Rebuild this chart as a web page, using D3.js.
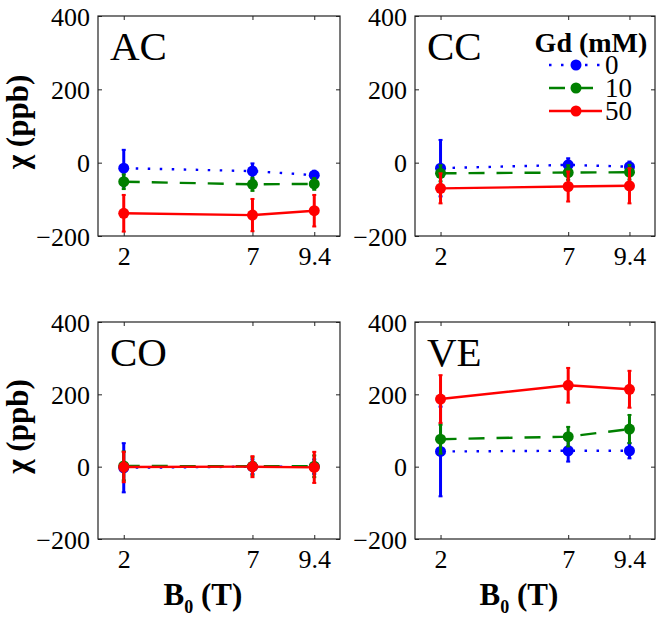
<!DOCTYPE html>
<html><head><meta charset="utf-8">
<script src="https://cdn.jsdelivr.net/npm/d3@7"></script>
<style>
body{margin:0;background:#fff}
text{font-family:"Liberation Serif","Times New Roman",serif;fill:#000}
</style>
</head><body>
<svg id="c" width="664" height="618"></svg>
<script>
// ---- data ----
const fieldT = [2, 7, 9.4];
const xTickLabels = ["2", "7", "9.4"];
const yTickValues = [-200, 0, 200, 400];
const panelNames = ["AC", "CC", "CO", "VE"];
const gdLevels = ["0", "10", "50"];

const AC_0 = [-15, -23, -34],  AC_0_err = [50, 21, 12];
const AC_10 = [-52, -59, -58], AC_10_err = [20, 18, 16];
const AC_50 = [-138, -143, -131], AC_50_err = [50, 44, 43];

const CC_0 = [-15, -6, -11],   CC_0_err = [77, 18, 14];
const CC_10 = [-29, -27, -26], CC_10_err = [22, 20, 20];
const CC_50 = [-70, -65, -63], CC_50_err = [41, 41, 48];

const CO_0 = [-3, 0, 0],   CO_0_err = [68, 20, 20];
const CO_10 = [2, 1, 1],   CO_10_err = [40, 25, 30];
const CO_50 = [-1, 0, -2], CO_50_err = [42, 29, 43];

const VE_0 = [42, 44, 44],    VE_0_err = [124, 30, 21];
const VE_10 = [76, 83, 104],  VE_10_err = [40, 27, 39];
const VE_50 = [187, 225, 214], VE_50_err = [66, 48, 51];

const panelData = {
  AC: [[AC_0, AC_0_err], [AC_10, AC_10_err], [AC_50, AC_50_err]],
  CC: [[CC_0, CC_0_err], [CC_10, CC_10_err], [CC_50, CC_50_err]],
  CO: [[CO_0, CO_0_err], [CO_10, CO_10_err], [CO_50, CO_50_err]],
  VE: [[VE_0, VE_0_err], [VE_10, VE_10_err], [VE_50, VE_50_err]]
};

// ---- styles ----
const colors = ["#0000ff", "#008000", "#ff0000"];
const dashes = ["2.5,9.5", "16,12", null];
const lw = 2.4;
const serif = '"Liberation Serif","Times New Roman",serif';

const boxes = [
  {x0: 98, x1: 340, y0: 16, y1: 236},
  {x0: 415, x1: 655, y0: 16, y1: 236},
  {x0: 98, x1: 340, y0: 322, y1: 539},
  {x0: 415, x1: 655, y0: 322, y1: 539}
];

const svg = d3.select("#c");

panelNames.forEach((name, pi) => {
  const b = boxes[pi];
  const x = d3.scaleLinear().domain([1, 10.4]).range([b.x0, b.x1]);
  const y = d3.scaleLinear().domain([-200, 400]).range([b.y1, b.y0]);
  const g = svg.append("g");

  // axes (inward ticks)
  const axB = g.append("g").attr("transform", `translate(0,${b.y1})`)
    .call(d3.axisBottom(x).tickValues(fieldT).tickFormat((d, i) => xTickLabels[i]).tickSize(-4).tickPadding(11));
  const axT = g.append("g").attr("transform", `translate(0,${b.y0})`)
    .call(d3.axisTop(x).tickValues(fieldT).tickFormat("").tickSize(-4));
  const axL = g.append("g").attr("transform", `translate(${b.x0},0)`)
    .call(d3.axisLeft(y).tickValues(yTickValues).tickFormat(d => d < 0 ? "\u2212" + Math.abs(d) : d).tickSize(-4).tickPadding(8));
  const axR = g.append("g").attr("transform", `translate(${b.x1},0)`)
    .call(d3.axisRight(y).tickValues(yTickValues).tickFormat("").tickSize(-4));
  [axB, axT, axL, axR].forEach(a => {
    a.attr("font-family", serif).attr("font-size", 26);
    a.select(".domain").remove();
    a.selectAll("line").attr("stroke", "#222").attr("stroke-width", 1);
    a.selectAll("text").style("font-family", serif).style("font-size", "26px").attr("fill", "#111");
  });
  axB.selectAll("text").attr("dy", "0.71em");
  axL.selectAll("text").attr("dy", "0.35em");

  g.append("rect").attr("x", b.x0).attr("y", b.y0).attr("width", b.x1 - b.x0).attr("height", b.y1 - b.y0)
    .attr("fill", "none").attr("stroke", "#222").attr("stroke-width", 1.2);

  // series
  panelData[name].forEach(([vals, errs], si) => {
    const pts = fieldT.map((t, i) => ({t, v: vals[i], e: errs[i]}));
    const sg = g.append("g");
    const line = d3.line().x(d => x(d.t)).y(d => y(d.v));
    sg.append("path").datum(pts).attr("d", line).attr("fill", "none")
      .attr("stroke", colors[si]).attr("stroke-width", lw)
      .attr("stroke-dasharray", dashes[si]);
    pts.forEach(d => {
      sg.append("line").attr("x1", x(d.t)).attr("x2", x(d.t)).attr("y1", y(d.v - d.e)).attr("y2", y(d.v + d.e))
        .attr("stroke", colors[si]).attr("stroke-width", 3);
      [d.v - d.e, d.v + d.e].forEach(c => {
        sg.append("line").attr("x1", x(d.t) - 2).attr("x2", x(d.t) + 2).attr("y1", y(c)).attr("y2", y(c))
          .attr("stroke", colors[si]).attr("stroke-width", 2);
      });
    });
    sg.selectAll("circle").data(pts).join("circle")
      .attr("cx", d => x(d.t)).attr("cy", d => y(d.v)).attr("r", 5.5).attr("fill", colors[si]);
  });

  // panel label
  g.append("text").attr("x", b.x0 + 12).attr("y", b.y0 + 44).style("font-size", "41px").text(name);

  // y label (left column only)
  if (pi % 2 === 0) {
    g.append("text").attr("transform", `translate(${b.x0 - 70},${(b.y0 + b.y1) / 2 - 4}) rotate(-90)`)
      .attr("text-anchor", "middle").style("font-size", "31px").style("font-weight", "bold").text("\u03c7 (ppb)");
  }

  // x label for bottom row
  if (pi >= 2) {
    const t = g.append("text").attr("x", (b.x0 + b.x1) / 2 - 16).attr("y", b.y1 + 66)
      .attr("text-anchor", "middle").style("font-size", "31px").style("font-weight", "bold");
    t.append("tspan").text("B");
    t.append("tspan").attr("dy", 8).style("font-size", "18px").text("0");
    t.append("tspan").attr("dy", -8).text(" (T)");
  }

  // legend in CC panel
  if (name === "CC") {
    const lg = g.append("g");
    lg.append("text").attr("x", 591).attr("y", 52).attr("text-anchor", "middle")
      .style("font-size", "28px").style("font-weight", "bold").text("Gd (mM)");
    gdLevels.forEach((lab, i) => {
      const ly = 65 + i * 23;
      lg.append("line").attr("x1", 549).attr("x2", 602).attr("y1", ly).attr("y2", ly)
        .attr("stroke", colors[i]).attr("stroke-width", lw).attr("stroke-dasharray", dashes[i]);
      lg.append("circle").attr("cx", 576).attr("cy", ly).attr("r", 5.5).attr("fill", colors[i]);
      lg.append("text").attr("x", 605).attr("y", ly + 9).style("font-size", "27px").text(lab);
    });
  }
});
</script>
</body></html>
